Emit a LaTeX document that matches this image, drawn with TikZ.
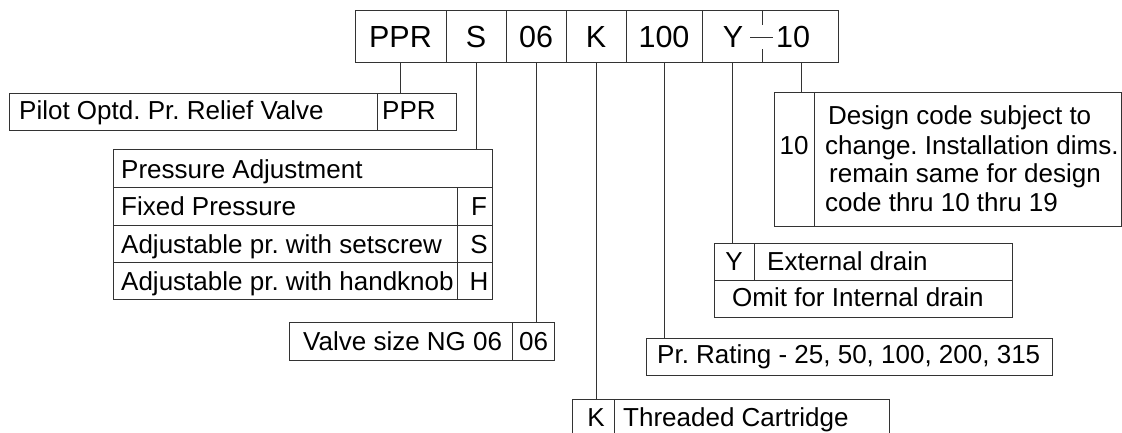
\documentclass[tikz,border=0pt]{standalone}
\usepackage{fontspec}
\setmainfont{Liberation Sans}
\frenchspacing
\begin{document}
\begin{tikzpicture}[x=1pt,y=-1pt,
  box/.style={draw=black!80, line width=0.9pt, inner sep=0pt, outer sep=0pt, anchor=north west},
  ln/.style={draw=black!80, line width=0.9pt},
  big/.style={font=\fontsize{30.5}{30.5}\selectfont, inner sep=0pt, anchor=base},
  txt/.style={font=\fontsize{26}{26}\selectfont, inner sep=0pt, anchor=base west},
  ctxt/.style={font=\fontsize{26}{26}\selectfont, inner sep=0pt, anchor=base},
]
\useasboundingbox (0,0) rectangle (1122,432);
\clip (0,0) rectangle (1122,432);

% ---------- top code row ----------
\node[box, minimum width=91pt, minimum height=52pt]  (tPPR) at (355,10) {};
\node[box, minimum width=60pt, minimum height=52pt]  (tS)   at (446,10) {};
\node[box, minimum width=60pt, minimum height=52pt]  (t06)  at (506,10) {};
\node[box, minimum width=60pt, minimum height=52pt]  (tK)   at (566,10) {};
\node[box, minimum width=76pt, minimum height=52pt]  (t100) at (626,10) {};
\node[box, minimum width=136pt, minimum height=52pt] (tY10) at (702,10) {};
\draw[ln] (762,10) -- (762,25) (762,49) -- (762,62);
\draw[ln] (750,37) -- (773,37);
\coordinate (cY)  at (732,62);
\coordinate (c10) at (801,62);

\node[big] (xPPR) at (400.5,47) {PPR};
\node[big] (xS)   at (476,47) {S};
\node[big] (x06)  at (536,47) {06};
\node[big] (xK)   at (596,47) {K};
\node[big] (x100) at (664,47) {100};
\node[big] (xY)   at (733,47) {Y};
\node[big] (x10)  at (793,47) {10};

% ---------- PPR box ----------
\node[box, minimum width=368pt, minimum height=37pt] (bPPRt) at (9,93) {};
\node[box, minimum width=79pt,  minimum height=37pt] (bPPRc) at (377,93) {};
\node[txt] (lPPRt) at (19,119) {Pilot Optd. Pr. Relief Valve};
\node[txt] (lPPRc) at (382,119) {PPR};

% ---------- Pressure adjustment ----------
\node[box, minimum width=379pt, minimum height=38pt] (pHead) at (113,149) {};
\node[box, minimum width=344pt, minimum height=38pt] (pF)  at (113,187) {};
\node[box, minimum width=35pt,  minimum height=38pt] (pFc) at (457,187) {};
\node[box, minimum width=344pt, minimum height=37pt] (pS)  at (113,225) {};
\node[box, minimum width=35pt,  minimum height=37pt] (pSc) at (457,225) {};
\node[box, minimum width=344pt, minimum height=37pt] (pH)  at (113,262) {};
\node[box, minimum width=35pt,  minimum height=37pt] (pHc) at (457,262) {};
\node[txt] (lHead) at (121,178) {Pressure Adjustment};
\node[txt] (lF) at (121,215) {Fixed Pressure};
\node[txt] (lS) at (121,253) {Adjustable pr. with setscrew};
\node[txt] (lH) at (121,290) {Adjustable pr. with handknob};
\node[ctxt] (lFc) at (479,215) {F};
\node[ctxt] (lSc) at (479,253) {S};
\node[ctxt] (lHc) at (479,290) {H};

% ---------- Valve size ----------
\node[box, minimum width=223pt, minimum height=38pt] (vT) at (289,322) {};
\node[box, minimum width=42pt,  minimum height=38pt] (vC) at (512,322) {};
\node[txt] (lvT) at (303,350) {Valve size NG 06};
\node[txt] (lvC) at (519,350) {06};

% ---------- K box ----------
\node[box, minimum width=42pt,  minimum height=50pt] (kC) at (572,399) {};
\node[box, minimum width=275pt, minimum height=50pt] (kT) at (614,399) {};
\node[ctxt] (lkC) at (596,426) {K};
\node[txt]  (lkT) at (623,426) {Threaded Cartridge};

% ---------- Pressure rating ----------
\node[box, minimum width=406pt, minimum height=37pt] (rT) at (646,338) {};
\node[txt] (lrT) at (657,363) {Pr. Rating - 25, 50, 100, 200, 315};

% ---------- Drain ----------
\node[box, minimum width=40pt,  minimum height=37pt] (yC) at (714,243) {};
\node[box, minimum width=258pt, minimum height=37pt] (yT) at (754,243) {};
\node[box, minimum width=298pt, minimum height=37pt] (yO) at (714,280) {};
\node[ctxt] (lyC) at (734,270) {Y};
\node[txt]  (lyT) at (767,270) {External drain};
\node[txt]  (lyO) at (732,306) {Omit for Internal drain};

% ---------- Design code ----------
\node[box, minimum width=40pt,  minimum height=134pt] (dC) at (774,92) {};
\node[box, minimum width=307pt, minimum height=134pt] (dT) at (814,92) {};
\node[ctxt] (ldC) at (794,154) {10};
\node[txt] (ld1) at (828,124) {Design code subject to};
\node[txt] (ld2) at (825,154) {change. Installation dims.};
\node[txt] (ld3) at (829,182) {remain same for design};
\node[txt] (ld4) at (825,211) {code thru 10 thru 19};

% ---------- connectors ----------
\draw[ln] (tPPR.south) -- (tPPR.south |- bPPRc.north);
\draw[ln] (tS.south)   -- (tS.south |- pHead.north);
\draw[ln] (t06.south)  -- (t06.south |- vC.north);
\draw[ln] (tK.south)   -- (tK.south |- kC.north);
\draw[ln] (t100.south) -- (t100.south |- rT.north);
\draw[ln] (cY)  -- (cY |- yC.north);
\draw[ln] (c10) -- (c10 |- dC.north);
\end{tikzpicture}
\end{document}
